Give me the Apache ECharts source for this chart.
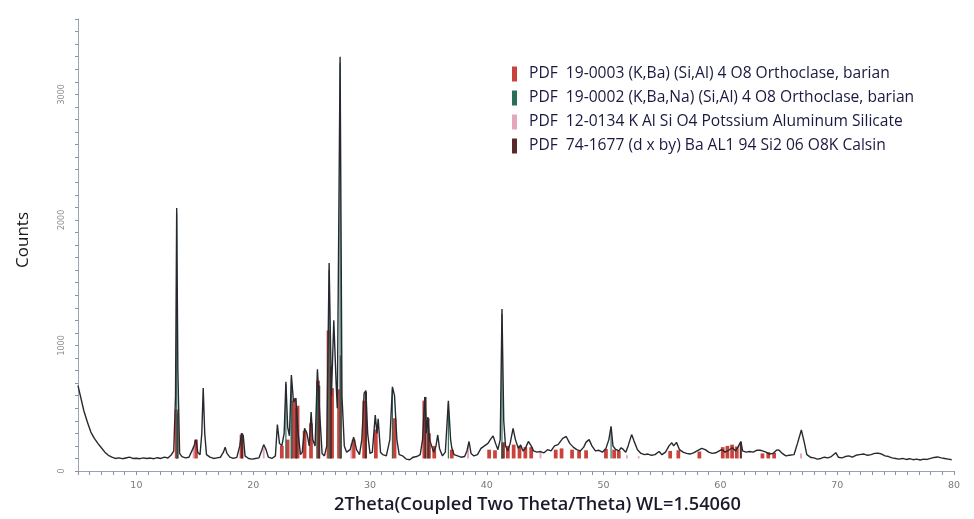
<!DOCTYPE html>
<html>
<head>
<meta charset="utf-8">
<script src="https://cdn.jsdelivr.net/npm/echarts@6/dist/echarts.min.js"></script>
<style>
html,body{margin:0;padding:0;background:#fff;}
#chart{width:974px;height:519px;}
</style>
</head>
<body>
<div id="chart"></div>
<script>
// ---- DATA ----
const legendNames = [
  'PDF  19-0003 (K,Ba) (Si,Al) 4 O8 Orthoclase, barian',
  'PDF  19-0002 (K,Ba,Na) (Si,Al) 4 O8 Orthoclase, barian',
  'PDF  12-0134 K Al Si O4 Potssium Aluminum Silicate',
  'PDF  74-1677 (d x by) Ba AL1 94 Si2 06 O8K Calsin'
];
const xTitle = '2Theta(Coupled Two Theta/Theta) WL=1.54060';
const yTitle = 'Counts';
const stickBase = 100;

// observed pattern: [2theta, counts]
const observed = [
[5.0,680],[5.2,600],[5.5,480],[5.8,390],[6.1,310],[6.4,260],[6.7,220],[7.0,185],[7.3,150],[7.6,125],[7.9,110],
[8.2,100],[8.5,105],[8.8,98],[9.1,104],[9.4,110],[9.7,100],[10.0,102],[10.3,98],[10.6,105],[10.9,100],[11.2,103],
[11.5,98],[11.8,106],[12.1,100],[12.4,110],[12.7,104],[13.0,130],[13.2,160],[13.35,600],[13.45,2095],[13.55,800],
[13.7,140],[13.9,115],[14.2,105],[14.5,110],[14.7,150],[14.9,190],[15.1,250],[15.25,150],[15.45,130],[15.6,300],
[15.72,660],[15.85,300],[16.0,130],[16.3,110],[16.6,100],[16.9,105],[17.2,110],[17.45,150],[17.6,190],[17.75,140],
[18.0,110],[18.3,100],[18.6,108],[18.85,200],[19.0,300],[19.15,280],[19.3,120],[19.6,100],[19.9,95],[20.2,100],
[20.5,105],[20.75,170],[20.9,210],[21.1,170],[21.3,110],[21.6,100],[21.9,120],[22.07,370],[22.25,220],[22.45,200],
[22.65,300],[22.8,710],[22.95,350],[23.1,280],[23.27,765],[23.45,550],[23.65,580],[23.85,300],[24.05,130],[24.2,150],
[24.4,340],[24.6,300],[24.8,200],[24.96,470],[25.1,250],[25.3,200],[25.5,810],[25.7,450],[25.9,140],[26.1,120],
[26.3,200],[26.5,1657],[26.7,600],[26.9,1200],[27.1,700],[27.2,500],[27.44,3300],[27.6,600],[27.8,200],[28.0,150],
[28.3,170],[28.6,270],[28.85,170],[29.1,130],[29.3,250],[29.5,620],[29.65,640],[29.8,300],[30.0,140],[30.2,150],
[30.45,445],[30.6,300],[30.7,415],[30.9,150],[31.1,130],[31.4,120],[31.7,250],[31.92,670],[32.1,600],[32.3,250],
[32.5,130],[32.8,120],[33.1,95],[33.4,90],[33.7,110],[34.0,115],[34.3,130],[34.5,250],[34.69,590],[34.85,300],
[34.95,430],[35.1,250],[35.25,235],[35.45,150],[35.65,200],[35.8,287],[35.95,180],[36.2,120],[36.45,150],[36.71,560],
[36.9,250],[37.0,185],[37.2,130],[37.5,120],[37.8,110],[38.1,115],[38.3,160],[38.48,235],[38.65,140],[38.9,120],
[39.2,130],[39.5,180],[39.8,200],[40.1,220],[40.3,250],[40.54,280],[40.75,220],[40.95,170],[41.15,250],[41.3,1290],
[41.45,400],[41.6,200],[41.8,160],[42.0,220],[42.25,340],[42.45,250],[42.7,180],[42.9,207],[43.1,160],[43.3,180],
[43.56,235],[43.8,200],[44.0,160],[44.3,150],[44.6,155],[44.9,145],[45.2,170],[45.5,160],[45.8,200],[46.1,210],
[46.5,260],[46.8,275],[47.1,220],[47.4,190],[47.7,170],[48.0,160],[48.3,190],[48.5,230],[48.76,250],[49.0,200],
[49.3,160],[49.6,165],[49.9,150],[50.2,180],[50.45,250],[50.64,355],[50.8,200],[51.0,175],[51.3,160],[51.5,185],
[51.7,170],[51.9,150],[52.1,200],[52.4,290],[52.6,240],[52.9,170],[53.2,140],[53.5,130],[53.8,135],[54.1,125],
[54.4,130],[54.75,155],[55.0,130],[55.3,150],[55.6,200],[55.84,225],[56.0,200],[56.24,228],[56.5,170],[56.8,150],
[57.1,140],[57.4,135],[57.7,145],[58.0,160],[58.4,180],[58.7,170],[59.0,150],[59.3,140],[59.6,145],[59.9,160],
[60.1,170],[60.4,150],[60.7,165],[61.03,185],[61.3,160],[61.5,190],[61.75,235],[61.9,160],[62.2,150],[62.5,155],
[62.8,150],[63.1,165],[63.4,165],[63.6,160],[63.9,150],[64.2,135],[64.5,140],[64.8,165],[65.0,168],[65.3,140],
[65.6,120],[65.9,125],[66.3,130],[66.6,220],[66.93,327],[67.2,220],[67.4,130],[67.7,110],[68.0,105],[68.3,95],
[68.6,100],[68.9,110],[69.2,105],[69.5,115],[69.88,146],[70.1,110],[70.4,105],[70.7,115],[71.0,120],[71.3,110],
[71.6,125],[71.9,130],[72.3,135],[72.6,125],[72.9,130],[73.2,140],[73.5,142],[73.8,135],[74.1,120],[74.4,115],
[74.7,105],[75.0,100],[75.3,95],[75.6,100],[75.9,92],[76.2,98],[76.5,90],[76.8,95],[77.1,88],[77.4,95],[77.7,92],
[78.0,100],[78.3,108],[78.6,112],[78.9,105],[79.2,100],[79.5,95],[79.8,90]
];

// reference sticks: [2theta, top counts]
const ref19_0003 = [
[13.45,490],[15.1,250],[19.0,290],[22.45,200],[22.95,250],[23.55,580],[23.8,520],[24.4,320],[24.95,380],
[25.55,720],[26.45,1120],[26.75,660],[27.35,650],[28.6,250],[29.5,560],[30.5,330],[32.1,420],[34.65,560],
[35.05,300],[35.5,200],[37.0,170],[40.2,170],[40.7,165],[41.4,230],[41.8,200],[42.3,210],[42.8,200],[43.3,190],
[43.8,190],[45.9,170],[46.4,180],[47.3,170],[47.9,160],[48.5,165],[50.2,175],[50.9,170],[51.3,160],[55.7,160],
[56.4,165],[58.2,155],[60.2,190],[60.6,200],[61.0,210],[61.4,195],[63.6,140],[64.1,150],[64.6,145]
];
const ref19_0002 = [
[13.45,2050],[22.8,690],[23.27,740],[25.5,790],[26.5,1600],[27.44,3250],[31.92,650],[36.71,540],[41.3,1250],[50.64,340]
];
const ref12_0134 = [
[14.9,200],[20.9,180],[28.4,220],[33.7,115],[38.4,200],[44.6,150],[52.0,125],[53.0,118],[66.9,140],[67.8,105]
];
const ref74_1677 = [
[13.5,460],[19.05,300],[23.3,560],[23.7,500],[25.65,680],[26.65,830],[27.5,920],[29.65,630],[34.75,590],
[35.0,420],[61.75,230],[41.35,220]
];

// ---- CHART ----
const chart = echarts.init(document.getElementById('chart'));
function stickSeries(name, data, color, halfWidth, z) {
  return {
    name: name, type: 'custom', z: z,
    itemStyle: { color: color },
    data: data.map(d => [d[0], stickBase, d[1]]),
    encode: { x: 0, y: [1, 2] },
    renderItem: function (params, api) {
      const x = api.value(0);
      const p1 = api.coord([x - halfWidth, api.value(2)]);
      const p2 = api.coord([x + halfWidth, api.value(1)]);
      return {
        type: 'rect',
        shape: { x: p1[0], y: p1[1], width: Math.max(1, p2[0] - p1[0]), height: p2[1] - p1[1] },
        style: api.style()
      };
    }
  };
}
const option = {
  backgroundColor: '#ffffff',
  animation: false,
  grid: { left: 78, right: 20, top: 19, bottom: 48 },
  legend: {
    orient: 'vertical', left: 507, top: 61, itemGap: 8,
    icon: 'rect', itemWidth: 5, itemHeight: 15,
    textStyle: { fontFamily: 'Open Sans', fontSize: 15.6, color: '#1a1a40', padding: [0, 0, 0, 7] },
    data: legendNames
  },
  xAxis: {
    type: 'value', min: 5, max: 80, interval: 1,
    axisLine: { lineStyle: { color: '#9aa4b0', width: 1 } },
    axisTick: { length: 4, lineStyle: { color: '#8a94a0' } },
    splitLine: { show: false },
    axisLabel: {
      fontFamily: 'DejaVu Sans', fontSize: 9.5, color: '#7a7a7a', margin: 10,
      formatter: v => (v % 10 === 0 ? String(v) : '')
    }
  },
  yAxis: {
    type: 'value', min: 0, max: 3600, interval: 100,
    axisLine: { show: true, lineStyle: { color: '#9aa4b0', width: 1 } },
    axisTick: { show: true, length: 3, lineStyle: { color: '#8a94a0' } },
    splitLine: { show: false },
    axisLabel: {
      fontFamily: 'DejaVu Sans', fontSize: 8, color: '#8a8a8a', margin: 12, rotate: 90,
      formatter: v => (v % 1000 === 0 ? String(v) : '')
    }
  },
  graphic: [
    { type: 'text', left: 15, top: 212, rotation: Math.PI / 2,
      style: { text: yTitle, fontFamily: 'Open Sans', fontSize: 17, fill: '#1a1a1a' } },
    { type: 'text', left: 334, top: 496,
      style: { text: xTitle, fontFamily: 'Open Sans', fontSize: 18.2, fontWeight: 600, fill: '#1a1a2a' } }
  ],
  series: [
    stickSeries(legendNames[0], ref19_0003, '#c8433c', 0.16, 2),
    stickSeries(legendNames[3], ref74_1677, '#5a2a2a', 0.09, 3),
    stickSeries(legendNames[2], ref12_0134, '#e4a6bd', 0.08, 3),
    stickSeries(legendNames[1], ref19_0002, '#2a6f5a', 0.05, 4),
    {
      name: 'observed', type: 'line', data: observed, showSymbol: false, z: 5,
      lineStyle: { color: '#262a30', width: 1.4 }, itemStyle: { color: '#262a30' }
    }
  ]
};
chart.setOption(option);
</script>
</body>
</html>
